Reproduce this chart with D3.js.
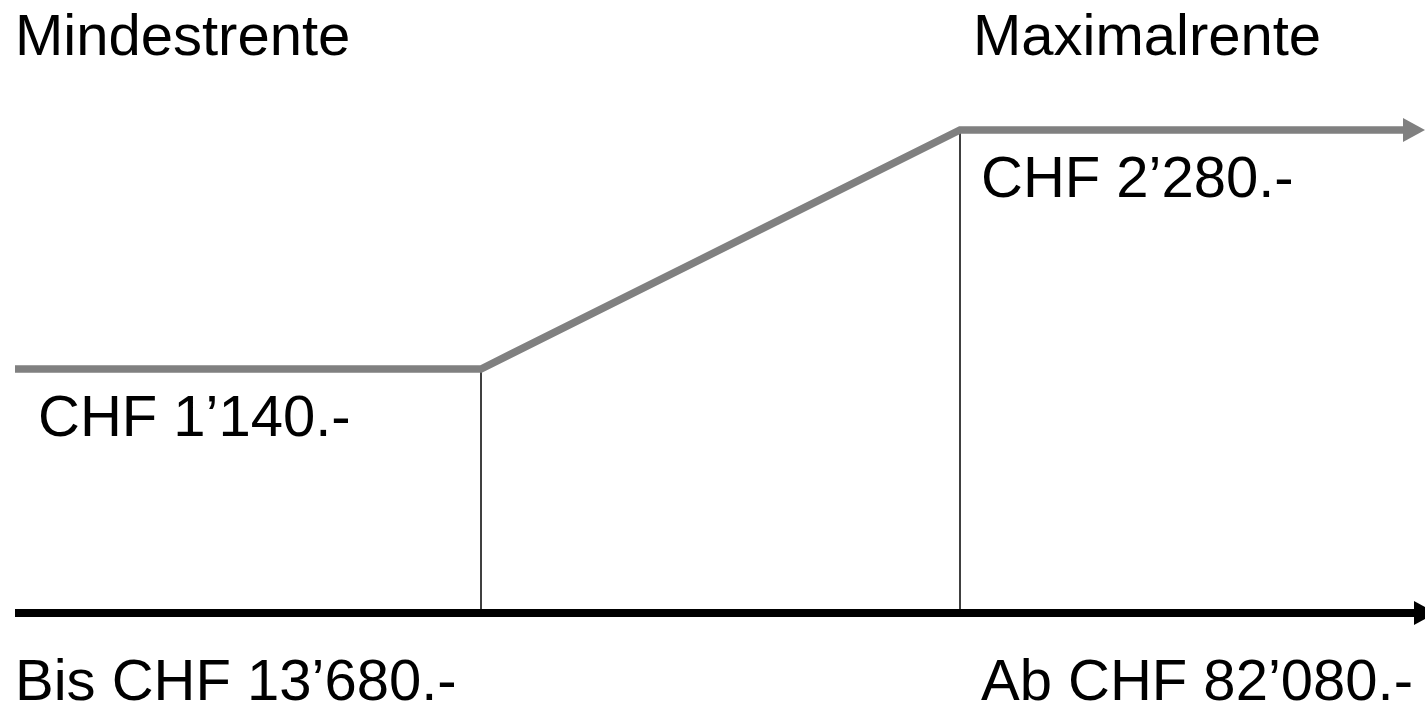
<!DOCTYPE html>
<meta charset="utf-8">
<style>
body {
  margin: 0;
  background: #fff;
}
text {
  font-family: "Liberation Sans", Arial, sans-serif;
  font-size: 58px;
  fill: #000;
}
</style>
<body>
<script src="https://d3js.org/d3.v7.min.js"></script>
<script>
var width = 1425,
    height = 704;

// income breakpoints (CHF / year) and the pension paid there (CHF / month)
var incomes = [0, 13680, 82080, 120000];
var rents = [1140, 1140, 2280, 2280];
var incomeLabels = ["Bis CHF 13’680.-", "Ab CHF 82’080.-"];
var rentLabels = ["CHF 1’140.-", "CHF 2’280.-"];
var titles = ["Mindestrente", "Maximalrente"];

var x = d3.scaleLinear()
    .domain(incomes)
    .range([15, 481, 960, 1425]);

var y = d3.scaleLinear()
    .domain([0, 1140, 2280])
    .range([613, 369, 130]);

var svg = d3.select("body").append("svg")
    .attr("width", width)
    .attr("height", height);

var pts = incomes.map(function(d, i) { return [x(d), y(rents[i])]; });

// drop lines at the two breakpoints
svg.selectAll("line.drop")
    .data([1, 2])
  .enter().append("line")
    .attr("class", "drop")
    .attr("x1", function(i) { return x(incomes[i]); })
    .attr("x2", function(i) { return x(incomes[i]); })
    .attr("y1", function(i) { return y(rents[i]); })
    .attr("y2", y(0))
    .attr("stroke", "#000")
    .attr("stroke-width", 1.5);

// pension curve, stops short of arrow head
var head = 22;
var curve = pts.slice();
curve[curve.length - 1] = [x(incomes[3]) - head, y(rents[3])];
svg.append("path")
    .attr("d", d3.line()(curve))
    .attr("fill", "none")
    .attr("stroke", "#808080")
    .attr("stroke-width", 7.5);

var tip = x(incomes[3]), ty = y(rents[3]);
svg.append("path")
    .attr("d", "M" + tip + "," + ty + "L" + (tip - head) + "," + (ty - 12) + "L" + (tip - head) + "," + (ty + 12) + "Z")
    .attr("fill", "#808080");

// income axis
var ay = y(0), atip = x(incomes[3]) + 11;
svg.append("line")
    .attr("x1", x(0))
    .attr("x2", atip - head)
    .attr("y1", ay)
    .attr("y2", ay)
    .attr("stroke", "#000")
    .attr("stroke-width", 8);
svg.append("path")
    .attr("d", "M" + atip + "," + ay + "L" + (atip - head) + "," + (ay - 12) + "L" + (atip - head) + "," + (ay + 12) + "Z")
    .attr("fill", "#000");

// labels
svg.append("text").attr("x", x(0)).attr("y", 55).text(titles[0]);
svg.append("text").attr("x", x(incomes[2]) + 13).attr("y", 55).text(titles[1]);

svg.append("text").attr("x", x(0) + 23).attr("y", y(rents[0]) + 67).text(rentLabels[0]);
svg.append("text").attr("x", x(incomes[2]) + 21).attr("y", y(rents[2]) + 67).text(rentLabels[1]);

svg.append("text").attr("x", x(0)).attr("y", 700).text(incomeLabels[0]);
svg.append("text").attr("x", x(incomes[2]) + 21).attr("y", 700).text(incomeLabels[1]);
</script>
</body>
